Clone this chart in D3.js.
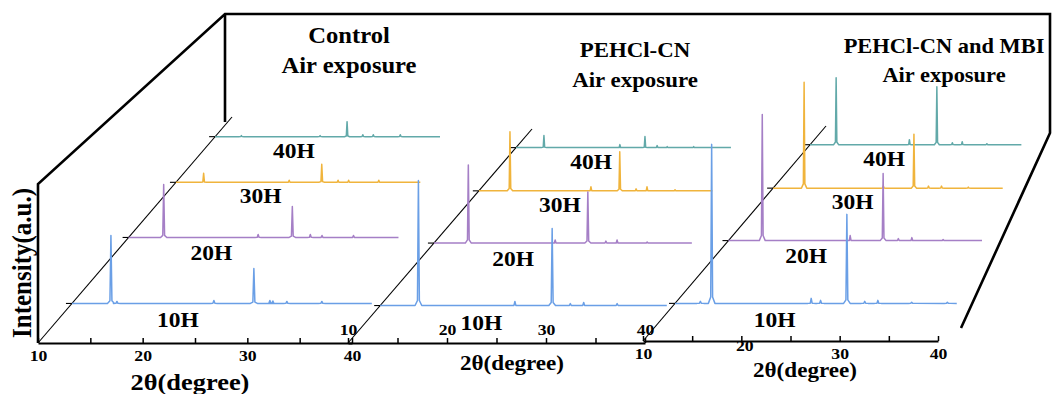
<!DOCTYPE html>
<html><head><meta charset="utf-8">
<script src="https://cdn.jsdelivr.net/npm/d3@7"></script>
<style>html,body{margin:0;padding:0;background:#fff;} svg{display:block;}</style>
</head><body><svg id="c" width="1052" height="394"></svg>
<script>
// ---------------- DATA ----------------
const hours = [10, 20, 30, 40];
const hourLabels = ["10H", "20H", "30H", "40H"];
const xTicks = [10, 15, 20, 25, 30, 35, 40];
const xTickLabels = [10, 20, 30, 40];
const titleControl = ["Control", "Air exposure"];
const titlePEHCl = ["PEHCl-CN", "Air exposure"];
const titleMBI = ["PEHCl-CN and MBI", "Air exposure"];
const xTitle = "2θ(degree)";
const yTitle = "Intensity(a.u.)";

// peaks: [2theta, intensity (a.u.)] for 10H, 20H, 30H, 40H
const controlPeaks = [
  [[13.9, 680], [14.5, 20], [24.2, 30], [28.2, 350], [29.8, 30], [30.1, 25], [31.5, 20], [35.0, 20]],
  [[13.9, 530], [24.4, 30], [28.2, 310], [30.2, 30], [31.5, 20], [35.0, 20]],
  [[13.4, 90], [23.9, 20], [27.9, 180], [29.9, 20], [31.2, 20], [34.9, 20]],
  [[13.5, 10], [24.0, 10], [27.6, 150], [29.7, 20], [31.1, 20], [34.7, 20]]
];
const pehclPeaks = [
  [[14.0, 1250], [24.1, 40], [28.0, 770], [29.9, 20], [31.3, 30], [34.8, 20]],
  [[14.0, 780], [24.1, 30], [27.9, 510], [30.0, 20], [31.3, 30], [34.8, 10]],
  [[14.0, 590], [24.4, 40], [28.1, 390], [30.2, 20], [31.6, 40], [35.2, 10]],
  [[13.9, 120], [24.5, 30], [28.0, 110], [29.7, 20], [31.1, 10], [34.8, 10]]
];
const mbiPeaks = [
  [[12.7, 20], [13.9, 1590], [24.5, 50], [25.5, 30], [28.3, 890], [30.2, 20], [31.6, 30], [35.2, 10], [39.0, 10]],
  [[14.0, 1260], [24.4, 50], [28.3, 670], [30.1, 20], [31.7, 30], [35.4, 10]],
  [[14.05, 1060], [24.4, 20], [28.4, 540], [30.3, 20], [32.0, 20], [35.5, 10]],
  [[13.7, 670], [24.1, 50], [28.0, 580], [30.2, 20], [31.6, 30], [35.1, 10]]
];

// ---------------- LAYOUT ----------------
const FONT = "'Liberation Serif','Times New Roman',serif";
const colors = ["#6a9fe6", "#a57fc6", "#f0b43c", "#62a9a9"];
const depthFrac = d3.scaleLinear().domain(hours).range([0.175, 0.467, 0.711, 0.913]);
const persp = d3.scaleLinear().domain(hours).range([1, 0.9, 0.815, 0.75]);
const yI = d3.scaleLinear().domain([0, 1000]).range([0, 100]);
const labelTheta = [20.6, 19.2, 20.4, 20.5];
const labelDy = [24, 22.5, 21, 21];

const panels = [
  {peaks: controlPeaks, title: titleControl, x0: 38, x1: 352, y: 343, ddx: 194, ddy: -226, wf: 0.955,
   side: "bottom", tx: 349, ty: [43, 73], tsize: 23, tsx: 1.07, xtx: 190, xty: 390, xtsize: 24, xtsx: 1.1, raise: null},
  {peaks: pehclPeaks, title: titlePEHCl, x0: 348, x1: 645, y: 343, ddx: 184, ddy: -214, wf: 0.965,
   side: "top", tx: 635, ty: [57, 87], tsize: 22, tsx: 1.04, xtx: 512, xty: 370, xtsize: 22, xtsx: 1.05, raise: null},
  {peaks: mbiPeaks, title: titleMBI, x0: 643, x1: 938, y: 341, ddx: 183, ddy: -215, wf: 0.955,
   side: "bottom", tx: 944, ty: [53, 82], tsize: 22, tsx: 1.02, xtx: 805, xty: 377, xtsize: 22, xtsx: 1.05, raise: 20}
];

const svg = d3.select("#c");

function txt(sel, s, x, y, size, sx, anchor) {
  return sel.append("text")
    .attr("transform", `translate(${x},${y}) scale(${sx},1)`)
    .attr("text-anchor", anchor || "middle")
    .attr("font-family", FONT).attr("font-weight", "bold")
    .attr("font-size", size).attr("fill", "#000").text(s);
}

// outer frame
svg.append("path")
  .attr("d", "M38,343 L38,184 L225,14 L1050,14 L1050,133 L961,328 M225,14 L225,122")
  .attr("fill", "none").attr("stroke", "#000").attr("stroke-width", 2.6)
  .attr("stroke-linejoin", "miter");

// y title
svg.append("text")
  .attr("transform", "translate(31,263) scale(1.12,1) rotate(-90)")
  .attr("text-anchor", "middle").attr("font-family", FONT).attr("font-weight", "bold")
  .attr("font-size", 25).text(yTitle);

panels.forEach(p => {
  const g = svg.append("g");
  const xs = d3.scaleLinear().domain([10, 40]).range([p.x0, p.x1]);

  // depth axis
  g.append("line")
    .attr("x1", p.x0).attr("y1", p.y)
    .attr("x2", p.x0 + p.ddx).attr("y2", p.y + p.ddy)
    .attr("stroke", "#000").attr("stroke-width", 1.1);

  // x axis
  const ax = (p.side === "top" ? d3.axisTop(xs) : d3.axisBottom(xs))
    .tickValues(xTicks)
    .tickFormat(d => xTickLabels.includes(d) ? d : "")
    .tickSizeOuter(0);
  if (p.side === "top") ax.tickSizeInner(5).tickPadding(3);
  else ax.tickSizeInner(-5).tickPadding(7);
  const axg = g.append("g").attr("transform", `translate(0,${p.y})`).call(ax);
  axg.attr("font-family", FONT).attr("font-size", 15).attr("font-weight", "bold");
  axg.select(".domain").attr("stroke", "#000").attr("stroke-width", 2);
  axg.selectAll(".tick line").attr("stroke", "#000").attr("stroke-width", 1.5);
  axg.selectAll(".tick text").attr("fill", "#000")
    .attr("transform", d => d === p.raise ? "translate(3,-8) scale(1.18,1)" : "scale(1.18,1)");

  // x title
  txt(g, xTitle, p.xtx, p.xty, p.xtsize, p.xtsx);
  // panel title
  txt(g, p.title[0], p.tx, p.ty[0], p.tsize, p.tsx);
  txt(g, p.title[1], p.tx, p.ty[1], p.tsize, p.tsx);

  // traces back to front
  [3, 2, 1, 0].forEach(i => {
    const h = hours[i];
    const f = depthFrac(h);
    const sx0 = p.x0 + f * p.ddx;
    const by = p.y + f * p.ddy;
    const w = (p.x1 - p.x0) * p.wf * persp(h);
    const ts = d3.scaleLinear().domain([10, 40]).range([sx0, sx0 + w]);
    const pts = [[10, 0]];
    p.peaks[i].forEach(([t, v]) => {
      pts.push([t - 0.35, 0], [t - 0.1, v * 0.04], [t, v], [t + 0.1, v * 0.04], [t + 0.35, 0]);
    });
    pts.push([40, 0]);
    const line = d3.line().x(d => ts(d[0])).y(d => by - yI(d[1]));
    // depth tick
    g.append("line").attr("x1", sx0 - 6).attr("x2", sx0).attr("y1", by).attr("y2", by)
      .attr("stroke", "#000").attr("stroke-width", 1.1);
    g.append("path").attr("d", line(pts)).attr("fill", "none")
      .attr("stroke", colors[i]).attr("stroke-width", 1.5).attr("stroke-linejoin", "round");
    txt(g, hourLabels[i], ts(labelTheta[i]), by + labelDy[i], 21, 1.12);
  });
});
</script>
</body></html>
